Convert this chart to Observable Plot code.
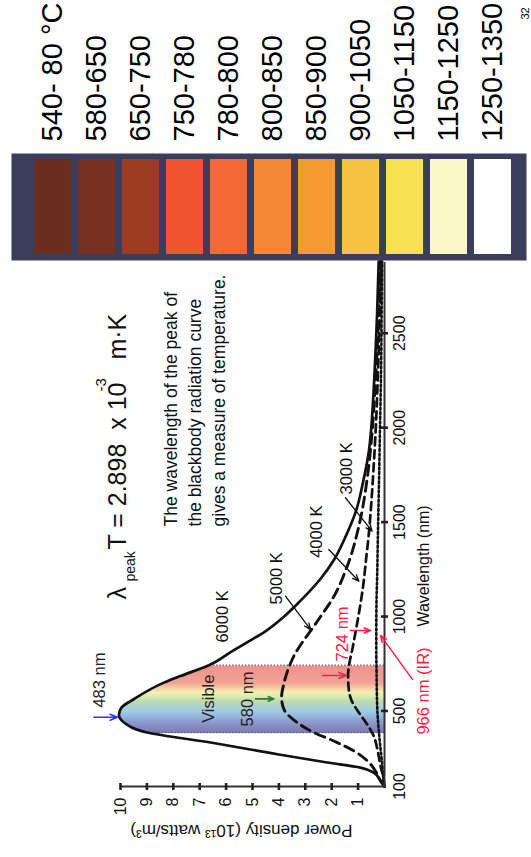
<!DOCTYPE html>
<html>
<head>
<meta charset="utf-8">
<script src="https://cdn.jsdelivr.net/npm/d3@7"></script>
<script src="https://cdn.jsdelivr.net/npm/@observablehq/plot@0.6"></script>
<style>
html, body { margin:0; padding:0; background:#fff; }
#page { position:relative; width:531px; height:857px; overflow:hidden; background:#fff; }
#landscape { position:absolute; left:0; top:0; width:857px; height:531px; transform-origin:0 0; transform:translate(0px, 857px) rotate(-90deg); }
#landscape svg { position:absolute; top:0; }
</style>
</head>
<body>
<div id="page"><div id="landscape"></div></div>
<script>
// ---- data ----
const wl6000 = [100,130,174,200,227,271,333,386,439,480,520,562,650,685,742,818,888,915,1000,1056,1200,1303,1400,1567,1700,1867,2000,2149,2400,2600,2880];
const p6000  = [0,0.15,0.41,0.91,2.17,4.06,6.59,8.99,9.87,10.06,9.95,9.5,8.36,7.73,6.65,5.75,4.9,4.58,3.8,3.38,2.42,1.9,1.55,1.06,0.83,0.6,0.5,0.43,0.34,0.28,0.22];
const wl5000 = [100,130,182,236,288,341,386,439,509,571,640,738,800,862,932,1000,1091,1267,1479,1726,1975,2200,2500,2880];
const p5000  = [0,0.15,0.34,0.65,1.16,1.92,2.68,3.31,3.81,3.9,3.82,3.6,3.4,3.12,2.76,2.42,1.98,1.41,0.97,0.66,0.47,0.36,0.25,0.16];
const wl4000 = [100,150,209,297,368,430,491,560,624,690,760,826,916,1000,1161,1300,1444,1600,1796,2000,2200,2500,2880];
const p4000  = [0,0.05,0.15,0.27,0.41,0.66,0.97,1.26,1.36,1.38,1.32,1.22,1.1,0.99,0.81,0.7,0.59,0.5,0.41,0.33,0.27,0.2,0.12];
const wl3000 = [100,130,209,300,386,500,600,700,800,966,1100,1200,1350,1500,1700,2000,2300,2600,2880];
const p3000  = [0,0.03,0.08,0.15,0.21,0.27,0.29,0.3,0.31,0.31,0.3,0.28,0.26,0.24,0.21,0.17,0.13,0.11,0.09];

const visibleRange = [386, 742];
const visibleStops = [[386,"#7c7cb4"],[430,"#8890c4"],[470,"#94b2dc"],[500,"#a2cae2"],[530,"#aed4cc"],[555,"#bcdcb2"],[580,"#dcecb0"],[600,"#f4f0b2"],[625,"#f6cca6"],[650,"#f2a496"],[742,"#f0908a"]];

const yTicks = [1,2,3,4,5,6,7,8,9,10];
const xTicks = [500,1000,1500,2000,2500];
const xTickLabels = [100,500,1000,1500,2000,2500];

const rangeLabels = ["540- 80 °C","580-650","650-750","750-780","780-800","800-850","850-900","900-1050","1050-1150","1150-1250","1250-1350"];
const swatchColors = ["#6b2d1e","#783020","#9b3c23","#f05532","#f56937","#f58737","#f59b32","#f5c341","#f8e150","#fcf8c8","#ffffff"];

// ---- helpers ----
const rows = (wl, p) => wl.map((w, i) => ({wl: w, p: p[i]}));
const r6000 = rows(wl6000, p6000), r5000 = rows(wl5000, p5000), r4000 = rows(wl4000, p4000), r3000 = rows(wl3000, p3000);
const band = r6000.filter(d => d.wl >= visibleRange[0] && d.wl <= visibleRange[1]);
const bandEdges = r6000.filter(d => d.wl === visibleRange[0] || d.wl === visibleRange[1]);

const FONT = "'Liberation Sans', Arial, Helvetica, sans-serif";
const INK = "#111";
const RED = "#ff2244";

function label(t, x, y, o = {}) {
  return Plot.text([t], Object.assign({x: () => x, y: () => y, text: d => d, lineAnchor: "bottom", textAnchor: "start", fontSize: 16.5, fill: INK}, o));
}
function arrow(x1, y1, x2, y2, o = {}) {
  return Plot.arrow([0], Object.assign({x1: () => x1, y1: () => y1, x2: () => x2, y2: () => y2, stroke: INK, strokeWidth: 1.3, headLength: 8, headAngle: 45}, o));
}
const hTick = {draw(c) { c.moveTo(-3.5, 0); c.lineTo(3.5, 0); }};
const vTick = {draw(c) { c.moveTo(0, -3.5); c.lineTo(0, 3.5); }};

// ---- main chart (drawn landscape, then the page rotates it) ----
const main = Plot.plot({
  width: 857, height: 531,
  marginLeft: 70, marginRight: 262, marginTop: 120, marginBottom: 147,
  x: {domain: [100, 2880], axis: null},
  y: {domain: [0, 10], axis: null},
  style: {fontFamily: FONT, color: INK, background: "transparent", overflow: "visible"},
  marks: [
    Plot.areaY(band, {x: "wl", y: "p", fill: "url(#visgrad)", curve: "monotone-x"}),
    Plot.ruleX(bandEdges, {x: "wl", y1: () => 0, y2: "p", stroke: "#666", strokeWidth: 1.6, strokeDasharray: "1.4,1.8"}),

    Plot.line(r3000, {x: "wl", y: "p", stroke: INK, strokeWidth: 2.6, strokeDasharray: "2,2.6", curve: "monotone-x"}),
    Plot.line(r4000, {x: "wl", y: "p", stroke: INK, strokeWidth: 2.7, strokeDasharray: "8,5", curve: "monotone-x"}),
    Plot.line(r5000, {x: "wl", y: "p", stroke: INK, strokeWidth: 2.9, strokeDasharray: "10,6", curve: "monotone-x"}),
    Plot.line(r6000, {x: "wl", y: "p", stroke: INK, strokeWidth: 2.7, curve: "monotone-x"}),

    Plot.ruleY([0], {stroke: "#333", strokeWidth: 2}),
    Plot.ruleX([100], {stroke: "#333", strokeWidth: 2}),
    Plot.dot(yTicks, {x: () => 100, y: d => d, symbol: hTick, r: 3, stroke: "#222", strokeWidth: 2.6}),
    Plot.dot(xTicks, {x: d => d, y: () => 0, symbol: vTick, r: 3, stroke: "#222", strokeWidth: 2.6}),
    Plot.axisY(yTicks, {tickSize: 0, tickPadding: 11, fontSize: 16, label: null, tickFormat: d => String(d)}),
    Plot.axisX(xTickLabels, {tickSize: 0, tickPadding: 9, fontSize: 16, label: null, tickFormat: d => String(d)}),

    Plot.text(["Power density (10\u00b9\u00b3 watts/m\u00b3)"], {frameAnchor: "left", y: () => 5.42, dx: -44, rotate: -90, fontSize: 17, textAnchor: "middle", lineAnchor: "middle", fill: INK}),
    label("Wavelength (nm)", 947, -1.67, {fontSize: 16}),
    label("966 nm (IR)", 375, -1.67, {fill: RED}),

    // formula
    label("\u03bb", 1090, 9.81, {fontSize: 25}),
    label("peak", 1090, 9.81, {fontSize: 14, dx: 18, dy: 9}),
    label("T = 2.898 \u00a0x 10", 1090, 9.81, {fontSize: 25, dx: 50}),
    label("-3", 1090, 9.81, {fontSize: 15, dx: 208, dy: -20}),
    label("m\u00b7K", 1090, 9.81, {fontSize: 25, dx: 240}),
    label("The wavelength of the peak of\nthe blackbody radiation curve\ngives a measure of temperature.", 1477, 6.04, {fontSize: 17.5, lineHeight: 1.371}),

    // curve labels and pointers
    label("6000 K", 862, 5.91),
    label("5000 K", 1064, 3.875),
    label("4000 K", 1311, 2.36),
    label("3000 K", 1646, 1.22),
    arrow(1108, 3.75, 931, 2.8),
    arrow(1355, 2.11, 1187, 0.97),
    arrow(1629, 1.48, 1452, 0.47),

    // visible band and peak annotations
    label("Visible", 437, 6.44, {fill: "#222"}),
    label("580 nm", 418, 5.0, {fill: "#222"}),
    label("483 nm", 518, 10.57, {fill: "#222"}),
    label("724 nm", 762, 1.40, {fill: RED}),
    arrow(467, 11.01, 467, 10.12, {stroke: "#3030ee", strokeWidth: 1.5}),
    arrow(564, 4.89, 564, 4.19, {stroke: "#2a7a3a", strokeWidth: 1.6}),
    arrow(688, 2.35, 688, 1.45, {stroke: RED, strokeWidth: 1.6}),
    arrow(926, 1.29, 926, 0.53, {stroke: RED, strokeWidth: 1.6}),
    arrow(667, -1.06, 900, 0.15, {stroke: RED, strokeWidth: 1.5, headLength: 7})
  ]
});

// gradient for the visible band
const xs = main.scale("x");
const defs = d3.select(main).insert("defs", ":first-child");
const grad = defs.append("linearGradient").attr("id", "visgrad")
  .attr("gradientUnits", "userSpaceOnUse")
  .attr("x1", xs.apply(visibleRange[0])).attr("x2", xs.apply(visibleRange[1]))
  .attr("y1", 0).attr("y2", 0);
visibleStops.forEach(([w, c]) => {
  grad.append("stop").attr("offset", (w - visibleRange[0]) / (visibleRange[1] - visibleRange[0])).attr("stop-color", c);
});

// ---- colour swatches of glowing metal ----
const swatchRows = rangeLabels.map((label, i) => ({label, color: swatchColors[i]}));
const swatch = Plot.plot({
  width: 261, height: 531,
  marginLeft: 0, marginRight: 154, marginTop: 26.8, marginBottom: 13.4,
  x: {domain: [0, 1], axis: null},
  y: {domain: rangeLabels, paddingInner: 0.165, paddingOuter: 0.0825, axis: null},
  color: {type: "identity"},
  style: {fontFamily: FONT, color: "#000", background: "transparent", overflow: "visible"},
  marks: [
    Plot.frame({fill: "#3a3e5c", stroke: "none", insetTop: -15.8, insetBottom: -8.4}),
    Plot.barX(swatchRows, {x1: () => 0, x2: () => 1, y: "label", fill: "color", insetLeft: 7, insetRight: 5}),
    Plot.axisY({anchor: "right", tickSize: 0, tickPadding: 12, fontSize: 29, label: null}),
    Plot.text(["32"], {frameAnchor: "bottom-left", dx: 241, dy: 10.5, lineAnchor: "bottom", textAnchor: "start", fontSize: 11, fill: "#000"})
  ]
});

const land = document.getElementById("landscape");
main.style.left = "0px";
swatch.style.left = "596px";
land.appendChild(main);
land.appendChild(swatch);
</script>
</body>
</html>
